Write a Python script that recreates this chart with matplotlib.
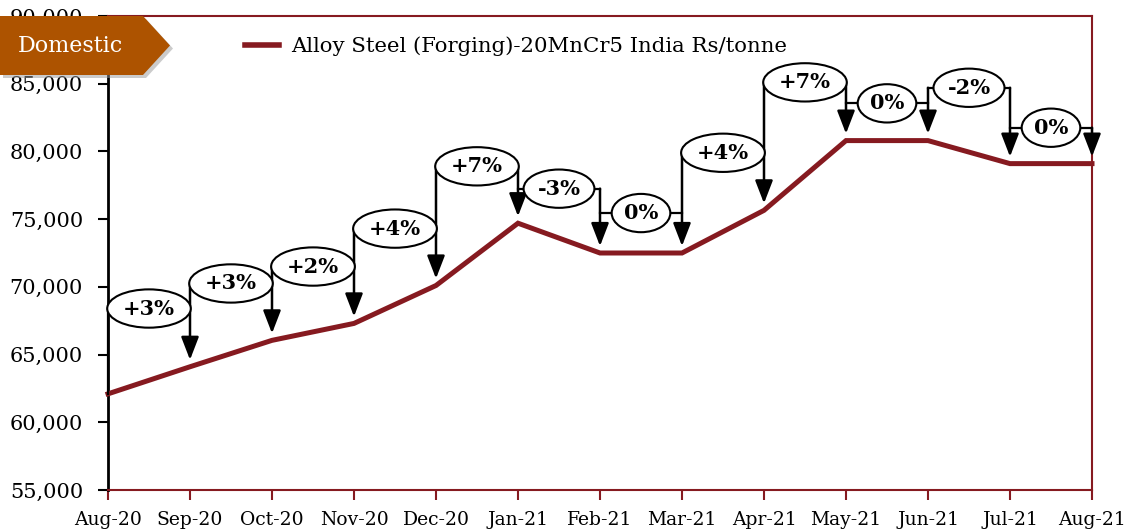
import matplotlib
matplotlib.use("Agg")
import matplotlib.pyplot as plt
from matplotlib.patches import Polygon
from matplotlib.ticker import FuncFormatter, MultipleLocator

# ---------------- data ----------------
months = ["Aug-20", "Sep-20", "Oct-20", "Nov-20", "Dec-20", "Jan-21", "Feb-21",
          "Mar-21", "Apr-21", "May-21", "Jun-21", "Jul-21", "Aug-21"]
prices = [62100, 64100, 66050, 67300, 70100, 74700, 72500,
          72500, 75650, 80800, 80800, 79100, 79100]
pct_labels = ["+3%", "+3%", "+2%", "+4%", "+7%", "-3%", "0%",
              "+4%", "+7%", "0%", "-2%", "0%"]
series_name = "Alloy Steel (Forging)-20MnCr5 India Rs/tonne"
tag_text = "Domestic"

# layout: height (in Rs) of each change label above the higher of its two points
label_lift = [4300, 4200, 4200, 4200, 4200, 2550, 2950, 4250, 4300, 2750, 3900, 2650]

# ---------------- style ----------------
RED = "#861A20"
BROWN = "#AD5300"
FONT = "DejaVu Serif"
plt.rcParams["font.family"] = [FONT]

W, H = 1133, 531
fig = plt.figure(figsize=(W / 100, H / 100), dpi=100)
ax = fig.add_axes([108 / W, 1 - 490 / H, (1092 - 108) / W, (490 - 16) / H])

x = list(range(len(months)))
ax.plot(x, prices, color=RED, lw=3.6, solid_joinstyle="miter", zorder=3,
        label=series_name, clip_on=False)

ax.set_xlim(0, len(months) - 1)
ax.set_ylim(55000, 90000)
ax.yaxis.set_major_locator(MultipleLocator(5000))
ax.yaxis.set_major_formatter(FuncFormatter(lambda v, p: f"{int(v):,}"))
ax.set_xticks(x)
ax.set_xticklabels(months)

for s in ["top", "right", "bottom"]:
    ax.spines[s].set_color(RED)
    ax.spines[s].set_linewidth(1.5)
ax.spines["left"].set_color("black")
ax.spines["left"].set_linewidth(2)

ax.tick_params(axis="x", direction="out", length=7, width=1.5, color=RED,
               labelsize=13.5, pad=8, labelcolor="black")
ax.tick_params(axis="y", direction="out", length=7, width=1.5, color="black",
               labelsize=15, pad=11, labelcolor="black")

# ---------------- change annotations ----------------
levels = [max(prices[i], prices[i + 1]) + label_lift[i] for i in range(len(pct_labels))]
n = len(prices)
for j in range(n):
    tops = []
    if j - 1 >= 0:
        tops.append(levels[j - 1])
    if j < len(levels):
        tops.append(levels[j])
    top = max(tops)
    if j == 0:
        ax.plot([j, j], [prices[j], top], color="black", lw=1.6, zorder=4, clip_on=False)
        continue
    ax.annotate("", xy=(j, prices[j]), xytext=(j, top),
                arrowprops=dict(arrowstyle="-|>,head_width=0.27,head_length=0.7",
                                mutation_scale=20, color="black", lw=1.8,
                                shrinkA=0, shrinkB=5),
                zorder=4, annotation_clip=False)

for i, lab in enumerate(pct_labels):
    ax.plot([i, i + 1], [levels[i], levels[i]], color="black", lw=1.6, zorder=4,
            clip_on=False)
    ax.text(i + 0.5, levels[i], lab, ha="center", va="center", fontsize=15,
            fontweight="bold", zorder=6,
            bbox=dict(boxstyle="ellipse,pad=0.17", fc="white", ec="black", lw=1.5))

# ---------------- legend ----------------
leg = ax.legend(loc="upper left", bbox_to_anchor=(0.12, 0.997), frameon=False,
                fontsize=15.3, handlelength=1.6, handletextpad=0.55)
for line in leg.get_lines():
    line.set_linewidth(4)

# ---------------- Domestic tag ----------------
def fp(px, py):
    return (px / W, 1 - py / H)

shape = [(0, 16), (143, 16), (170, 45.5), (143, 75), (0, 75)]
fig.add_artist(Polygon([fp(px + 3, py + 3) for px, py in shape], closed=True,
                       transform=fig.transFigure, fc="#999999", ec="none",
                       alpha=0.5, zorder=9))
fig.add_artist(Polygon([fp(px, py) for px, py in shape], closed=True,
                       transform=fig.transFigure, fc=BROWN, ec="none", zorder=10))
fig.text(70 / W, 1 - 46 / H, tag_text, color="white", fontsize=16,
         ha="center", va="center", zorder=11)

fig.savefig("out.png", dpi=100)
